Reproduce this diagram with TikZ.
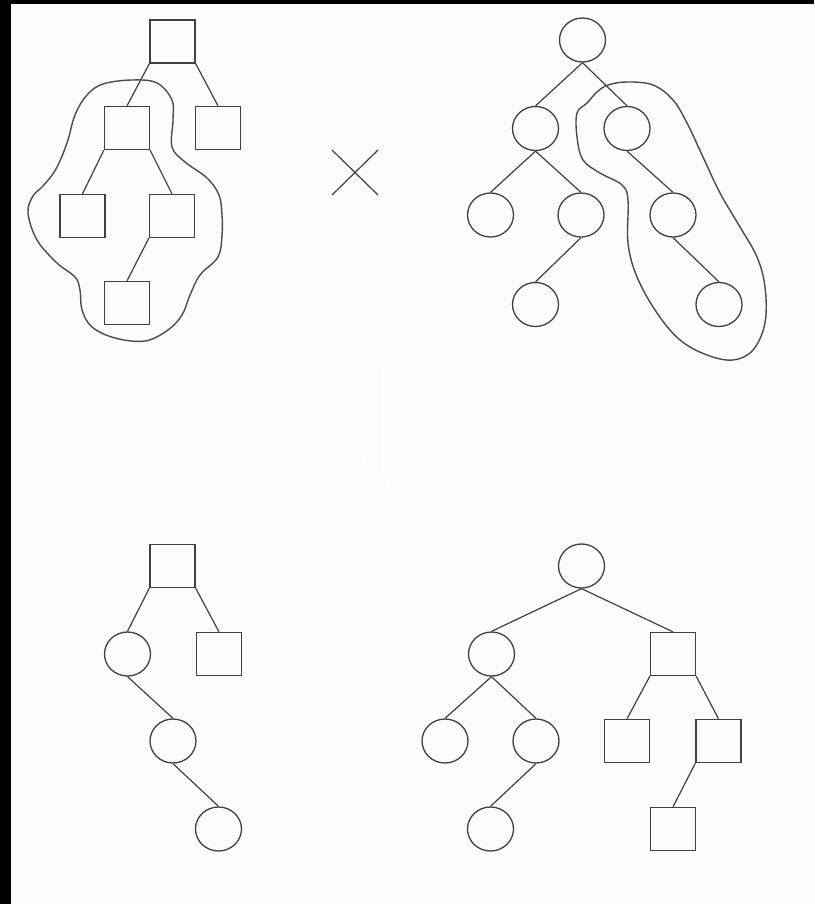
\documentclass[tikz,border=0pt]{standalone}
\usetikzlibrary{shapes.geometric}
\begin{document}
\begin{tikzpicture}[x=1pt,y=-1pt,
  sq/.style={draw=black!75, line width=1.3pt, rectangle, minimum width=45pt, minimum height=43pt, inner sep=0pt},
  cir/.style={draw=black!75, line width=1.3pt, ellipse, minimum width=46pt, minimum height=44pt, inner sep=0pt},
  conn/.style={draw=black!75, line width=1.2pt},
  blob/.style={draw=black!70, line width=1.4pt},
  ghost/.style={draw=white, line join=round}]
\useasboundingbox (0,0) rectangle (814,904);
\fill[black!1] (0,0) rectangle (814,904);
\fill[black] (0,0) rectangle (814,4);
\fill[black] (0,0) rectangle (11,904);

% ---------- top left tree (squares)
\node[sq] (A) at (172.5,41.5) {};
\node[sq] (A1) at (127,128) {};
\node[sq] (A2) at (218,128) {};
\node[sq] (A11) at (82.5,216) {};
\node[sq] (A12) at (172,216) {};
\node[sq] (A121) at (127,303) {};
\draw[conn] (A.south west) -- (A1.north);
\draw[conn] (A.south east) -- (A2.north);
\draw[conn] (A1.south west) -- (A11.north);
\draw[conn] (A1.south east) -- (A12.north);
\draw[conn] (A12.south west) -- (A121.north);
\draw[blob] plot[smooth cycle, tension=0.6] coordinates {
 (132,80) (157,83) (172,100) (173,120) (172,147) (185,162) (207,178) (219,195)
 (222,215) (222,235) (218,257) (200,275) (190,295) (182,315) (168,330) (145,341)
 (115,338) (92,327) (82,310) (80,290) (75,277) (57,263) (37,240) (28,213)
 (33,196) (43,186) (56,169) (67,143) (75,115) (87,95) (103,84)};

% ---------- cross
\coordinate (X1) at (332,150);
\coordinate (X2) at (378,195);
\coordinate (X3) at (378,150);
\coordinate (X4) at (332,195);
\draw[conn] (X1) -- (X2);
\draw[conn] (X3) -- (X4);

% ---------- top right tree (circles)
\node[cir] (B) at (582.5,40) {};
\node[cir] (B1) at (535.5,128.5) {};
\node[cir] (B2) at (627,128.5) {};
\node[cir] (B11) at (490.5,215) {};
\node[cir] (B12) at (581,215) {};
\node[cir] (B21) at (673,215) {};
\node[cir] (B121) at (535.5,304.5) {};
\node[cir] (B211) at (719,304.5) {};
\draw[conn] (B.south) -- (B1.north);
\draw[conn] (B.south) -- (B2.north);
\draw[conn] (B1.south) -- (B11.north);
\draw[conn] (B1.south) -- (B12.north);
\draw[conn] (B12.south) -- (B121.north);
\draw[conn] (B2.south) -- (B21.north);
\draw[conn] (B21.south) -- (B211.north);
\draw[blob] plot[smooth cycle, tension=0.6] coordinates {
 (627,82) (653,85) (673,100) (687,123) (703,157) (720,193) (740,227) (757,257)
 (765,287) (765,323) (753,350) (733,360) (707,355) (680,340) (657,313) (637,277)
 (628,243) (628,200) (622,185) (600,173) (583,160) (577,137) (577,113) (587,103)
 (597,92) (608,85)};

% ---------- faint arrow
\coordinate (R1) at (383,365);
\coordinate (R2) at (383,492);
\coordinate (H1) at (360,452);
\coordinate (H2) at (383,494);
\coordinate (H3) at (406,452);
\draw[ghost, line width=4pt] (R1) -- (R2);
\draw[ghost, line width=6pt] (H1) -- (H2) -- (H3);

% ---------- bottom left tree
\node[sq] (C) at (172.5,566) {};
\node[cir] (C1) at (127.5,654) {};
\node[sq] (C2) at (219,654) {};
\node[cir] (C11) at (173,741) {};
\node[cir] (C111) at (218.5,829) {};
\draw[conn] (C.south west) -- (C1.north);
\draw[conn] (C.south east) -- (C2.north);
\draw[conn] (C1.south) -- (C11.north);
\draw[conn] (C11.south) -- (C111.north);

% ---------- bottom right tree
\node[cir] (D) at (581.5,566) {};
\node[cir] (D1) at (491.5,654) {};
\node[sq] (D2) at (673,654) {};
\node[cir] (D11) at (445,741) {};
\node[cir] (D12) at (536,741) {};
\node[cir] (D121) at (490.5,829) {};
\node[sq] (D21) at (627,741) {};
\node[sq] (D22) at (718.5,741) {};
\node[sq] (D221) at (673,829) {};
\draw[conn] (D.south) -- (D1.north);
\draw[conn] (D.south) -- (D2.north);
\draw[conn] (D1.south) -- (D11.north);
\draw[conn] (D1.south) -- (D12.north);
\draw[conn] (D12.south) -- (D121.north);
\draw[conn] (D2.south west) -- (D21.north);
\draw[conn] (D2.south east) -- (D22.north);
\draw[conn] (D22.south west) -- (D221.north);
\end{tikzpicture}
\end{document}
